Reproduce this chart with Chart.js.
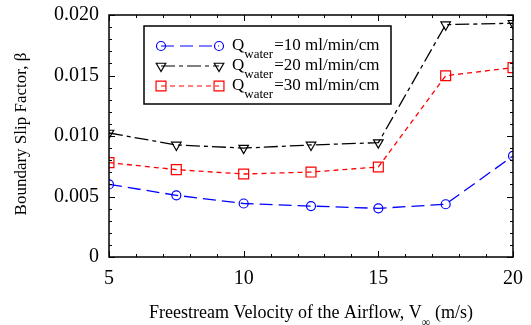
<!DOCTYPE html>
<html>
<head>
<meta charset="utf-8">
<script src="https://cdn.jsdelivr.net/npm/chart.js@4.4.1/dist/chart.umd.min.js"></script>
<style>
  html, body { margin: 0; padding: 0; background: #fff; }
  #wrap { width: 531px; height: 325px; position: relative; }
</style>
</head>
<body>
<div id="wrap"><canvas id="chart"></canvas></div>
<script>
// data
const velocity = [5, 7.5, 10, 12.5, 15, 17.5, 20];
const q10 = [0.0060, 0.0051, 0.00442, 0.00421, 0.00402, 0.00436, 0.00835];
const q20 = [0.01025, 0.00926, 0.00900, 0.00926, 0.00945, 0.01920, 0.01932];
const q30 = [0.00780, 0.00722, 0.00686, 0.00702, 0.00744, 0.01498, 0.01565];
const seriesNames = ["=10 ml/min/cm", "=20 ml/min/cm", "=30 ml/min/cm"];
const yTicks = [0, 0.005, 0.010, 0.015, 0.020];

const FONT = "'Liberation Serif', 'Times New Roman', serif";

function pts(ys) {
  return velocity.map((v, i) => ({ x: v, y: ys[i] }));
}

const styles = [
  { color: "#0000ff", dash: [13, 6], point: "circle", radius: 4.5, rot: 0 },
  { color: "#000000", dash: [14, 4, 4, 4], point: "triangle", radius: 5.5, rot: 180 },
  { color: "#ff0000", dash: [5, 4], point: "rect", radius: 7, rot: 0 },
];

const datasets = [q10, q20, q30].map((ys, i) => ({
  label: seriesNames[i],
  data: pts(ys),
  borderColor: styles[i].color,
  borderWidth: 1.3,
  borderDash: styles[i].dash,
  pointStyle: styles[i].point,
  pointRadius: styles[i].radius,
  pointRotation: styles[i].rot,
  pointBorderColor: styles[i].color,
  pointBorderWidth: 1.2,
  pointBackgroundColor: "rgba(0,0,0,0)",
  tension: 0,
  clip: 0,
}));

// frame, inward ticks, axis titles and legend
const decor = {
  id: "decor",
  afterDraw(chart) {
    const ctx = chart.ctx;
    const a = chart.chartArea;
    const xs = chart.scales.x, ys = chart.scales.y;
    ctx.save();
    ctx.strokeStyle = "#000";
    ctx.lineWidth = 1.5;
    ctx.setLineDash([]);
    ctx.strokeRect(a.left, a.top, a.right - a.left, a.bottom - a.top);

    ctx.lineWidth = 1;
    for (let k = 0; k <= 20; k++) {
      const y = Math.round(ys.getPixelForValue(k * 0.001)) + 0.5;
      const len = k % 5 === 0 ? 6 : 3;
      ctx.beginPath();
      ctx.moveTo(a.left, y); ctx.lineTo(a.left + len, y);
      ctx.moveTo(a.right, y); ctx.lineTo(a.right - len, y);
      ctx.stroke();
    }
    for (let v = 5; v <= 20; v++) {
      const x = Math.round(xs.getPixelForValue(v)) + 0.5;
      const len = v % 5 === 0 ? 6 : 3;
      ctx.beginPath();
      ctx.moveTo(x, a.bottom); ctx.lineTo(x, a.bottom - len);
      ctx.moveTo(x, a.top); ctx.lineTo(x, a.top + len);
      ctx.stroke();
    }

    // axis titles
    ctx.fillStyle = "#000";
    ctx.textBaseline = "middle";
    ctx.textAlign = "left";
    const main = "Freestream Velocity of the Airflow, V";
    const tail = " (m/s)";
    ctx.font = "18px " + FONT;
    const w1 = ctx.measureText(main).width;
    const w3 = ctx.measureText(tail).width;
    ctx.font = "12px " + FONT;
    const w2 = ctx.measureText("\u221e").width;
    let x0 = 311 - (w1 + w2 + w3) / 2;
    ctx.font = "18px " + FONT;
    ctx.fillText(main, x0, 313);
    ctx.font = "12px " + FONT;
    ctx.fillText("\u221e", x0 + w1, 323);
    ctx.font = "18px " + FONT;
    ctx.fillText(tail, x0 + w1 + w2, 313);

    ctx.save();
    ctx.font = "17px " + FONT;
    ctx.translate(22, 134);
    ctx.rotate(-Math.PI / 2);
    ctx.textAlign = "center";
    ctx.fillText("Boundary Slip Factor, \u03b2", 0, 0);
    ctx.restore();

    // legend
    const lx = 144, ly = 26, lw = 247, lh = 78;
    ctx.fillStyle = "#fff";
    ctx.fillRect(lx, ly, lw, lh);
    ctx.strokeStyle = "#000";
    ctx.lineWidth = 1.5;
    ctx.strokeRect(lx, ly, lw, lh);
    const rows = [46, 66, 86];
    datasets.forEach((ds, i) => {
      const y = rows[i];
      const st = styles[i];
      ctx.strokeStyle = st.color;
      ctx.lineWidth = 1.2;
      ctx.setLineDash(st.dash);
      ctx.beginPath();
      ctx.moveTo(161, y); ctx.lineTo(219, y);
      ctx.stroke();
      ctx.setLineDash([]);
      ctx.fillStyle = "rgba(0,0,0,0)";
      [161, 219].forEach(px => {
        Chart.helpers.drawPoint(ctx, {
          pointStyle: st.point, radius: st.radius, rotation: st.rot, borderWidth: 1.2,
        }, px, y);
      });
      ctx.fillStyle = "#000";
      ctx.textAlign = "left";
      ctx.font = "17px " + FONT;
      ctx.fillText("Q", 232, y);
      const qw = ctx.measureText("Q").width;
      ctx.font = "13px " + FONT;
      ctx.fillText("water", 232 + qw, y + 9);
      const sw = ctx.measureText("water").width;
      ctx.font = "17px " + FONT;
      ctx.fillText(ds.label, 232 + qw + sw + 1, y);
    });
    ctx.restore();
  },
};

const chart = new Chart(document.getElementById("chart"), {
  type: "line",
  data: { datasets: datasets },
  options: {
    responsive: true,
    maintainAspectRatio: false,
    animation: false,
    events: [],
    layout: { padding: { left: 0, top: 15, right: 18, bottom: 0 } },
    plugins: { legend: { display: false }, tooltip: { enabled: false } },
    scales: {
      x: {
        type: "linear",
        min: 5,
        max: 20,
        grid: { display: false },
        border: { display: false },
        ticks: {
          stepSize: 5,
          color: "#000",
          font: { family: FONT, size: 20 },
          padding: 2,
          maxRotation: 0,
        },
        afterFit(s) { s.height = 68; },
      },
      y: {
        min: 0,
        max: 0.02,
        grid: { display: false },
        border: { display: false },
        afterBuildTicks(s) { s.ticks = yTicks.map(v => ({ value: v })); },
        ticks: {
          color: "#000",
          font: { family: FONT, size: 20 },
          padding: 2,
          callback: v => (v === 0 ? "0" : v.toFixed(3)),
        },
        afterFit(s) { s.width = 109; },
      },
    },
  },
  plugins: [decor],
});
</script>
</body>
</html>
